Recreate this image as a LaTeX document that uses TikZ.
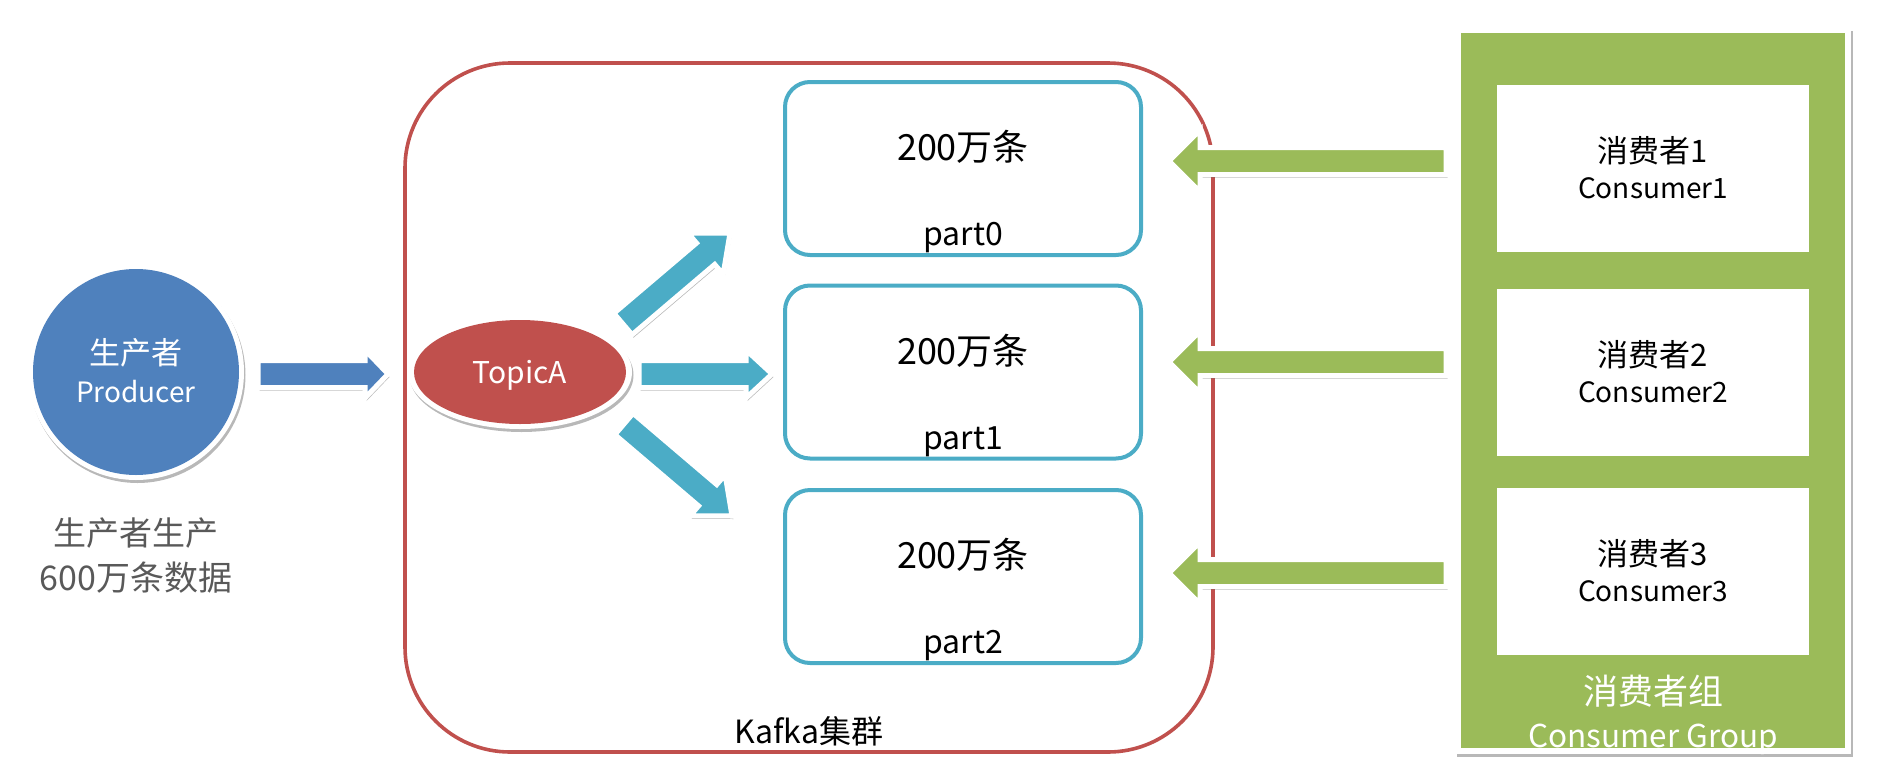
\documentclass[tikz,border=0pt]{standalone}
\usepackage{fontspec}
\setmainfont{Noto Sans CJK SC}
\usetikzlibrary{calc,shadows,shapes.geometric}
\definecolor{kblue}{HTML}{4F81BD}
\definecolor{kred}{HTML}{C0504D}
\definecolor{kteal}{HTML}{4BACC6}
\definecolor{kgreen}{HTML}{9BBB59}
\definecolor{kgray}{HTML}{595959}
\newcommand\blockarr[6]{%
  \coordinate (tmpH) at ($(#2)!#5!(#1)$);
  \draw[#6] ($(#1)!#3!90:(#2)$) -- ($(tmpH)!#3!90:(#2)$) -- ($(tmpH)!#4!90:(#2)$) -- (#2)
    -- ($(tmpH)!#4!-90:(#2)$) -- ($(tmpH)!#3!-90:(#2)$) -- ($(#1)!#3!-90:(#2)$) -- cycle;
}
\newcommand\fs[1]{\fontsize{#1}{#1}\selectfont}
\begin{document}
\begin{tikzpicture}[x=1pt,y=-1pt,
  shd/.style={drop shadow={shadow xshift=1.5pt, shadow yshift=-3pt, opacity=0.28, fill=black}},
  arr/.style={draw=white, line width=5pt, line join=miter, shd, fill=#1},
  part/.style={draw=kteal, line width=4pt, rounded corners=25pt, minimum width=356pt, minimum height=173pt, inner sep=0pt},
  cons/.style={fill=white, minimum width=312pt, minimum height=167pt, inner sep=0pt},
  txt/.style={anchor=base, inner sep=0pt}]
\useasboundingbox (0,0) rectangle (1880,766);

% Kafka cluster
\node[draw=kred, line width=3.6pt, rounded corners=105pt, minimum width=808pt, minimum height=689pt, inner sep=0pt] (kafka) at (809,407.5) {};
\node[txt, font=\fs{32}] (kafkalbl) at (809,743) {Kafka集群};

% producer
\node[circle, fill=white, minimum size=216pt, inner sep=0pt, shd] (prodring) at (136,372) {};
\node[circle, fill=kblue, minimum size=206pt, inner sep=0pt] (prod) at (136,372) {};
\node[txt, white, font=\fs{31}] (prodcn) at (136,364) {生产者};
\node[txt, white, font=\fs{28}] (proden) at (136,402) {Producer};
\node[txt, kgray, font=\fs{33}] (prodt1) at (136,545) {生产者生产};
\node[txt, kgray, font=\fs{34}] (prodt2) at (136,590) {600万条数据};

% topic
\node[ellipse, fill=white, minimum width=224pt, minimum height=114pt, inner sep=0pt, shd] (topicring) at (520,372) {};
\node[ellipse, fill=kred, minimum width=212pt, minimum height=104pt, inner sep=0pt] (topic) at (520,372) {};
\node[txt, white, font=\fs{30}] (topiclbl) at (520,383) {TopicA};

% partitions
\node[part] (p0) at (963,168.5) {};
\node[part] (p1) at (963,372) {};
\node[part] (p2) at (963,576.5) {};
\foreach \n/\t in {0/82,1/286,2/490}{
  \node[txt, font=\fs{36}] (pc\n) at (963,\t+78) {200万条};
  \node[txt, font=\fs{32}] (pn\n) at (963,\t+163) {part\n};
}

% consumer group
\node[fill=white, minimum width=396pt, minimum height=726pt, inner sep=0pt, shd] (grpring) at (1653,391) {};
\node[fill=kgreen, minimum width=384pt, minimum height=715pt, inner sep=0pt] (grp) at (1653,390.5) {};
\node[cons] (c1) at (1653,168.5) {};
\node[cons] (c2) at (1653,372.5) {};
\node[cons] (c3) at (1653,571.5) {};
\foreach \n/\t in {1/85,2/289,3/488}{
  \node[txt, font=\fs{31}] (cc\n) at (1653,\t+77) {消费者\n};
  \node[txt, font=\fs{28}] (ce\n) at (1653,\t+113) {Consumer\n};
}
\node[txt, white, font=\fs{35}] (grpcn) at (1653,704) {消费者组};
\node[txt, white, font=\fs{31.5}] (grpen) at (1653,747) {Consumer Group};

% arrow end points
\coordinate (a0s) at (258,374);  \coordinate (a0e) at (388,374);
\coordinate (a1s) at (639,374);  \coordinate (a1e) at (772,374);
\coordinate (a2s) at (623,324);  \coordinate (a2e) at (730,233);
\coordinate (a3s) at (624,424);  \coordinate (a3e) at (732,516);
\coordinate (g1s) at (1446,161); \coordinate (g1e) at (1169,161);
\coordinate (g2s) at (1446,362); \coordinate (g2e) at (1169,362);
\coordinate (g3s) at (1446,573); \coordinate (g3e) at (1169,573);

\blockarr{a0s}{a0e}{13.5pt}{24pt}{23pt}{arr=kblue}
\blockarr{a1s}{a1e}{13.5pt}{24pt}{26pt}{arr=kteal}
\blockarr{a2s}{a2e}{14pt}{27pt}{32pt}{arr=kteal}
\blockarr{a3s}{a3e}{14pt}{27pt}{32pt}{arr=kteal}
\blockarr{g1s}{g1e}{13.5pt}{31pt}{31pt}{arr=kgreen}
\blockarr{g2s}{g2e}{13.5pt}{31pt}{31pt}{arr=kgreen}
\blockarr{g3s}{g3e}{13.5pt}{31pt}{31pt}{arr=kgreen}
\end{tikzpicture}
\end{document}
